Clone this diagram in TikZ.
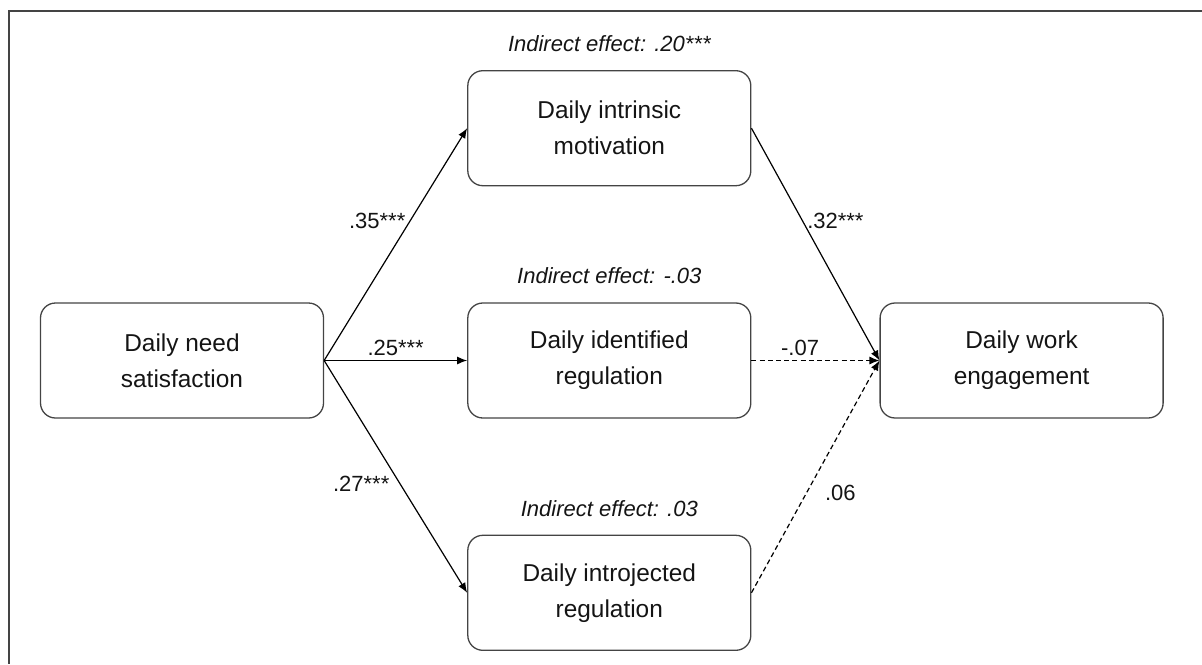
\documentclass[tikz,border=0pt]{standalone}
\usepackage{fontspec}
\setmainfont{Liberation Sans}
\usetikzlibrary{arrows.meta, positioning}
\definecolor{cEdge}{HTML}{444444}
\definecolor{cText}{HTML}{141414}

\begin{document}
\begin{tikzpicture}[
  x=0.5pt, y=-0.5pt,
  >={Latex[length=5pt, width=4pt]},
  var/.style    = {rectangle, rounded corners=7.5pt, draw=cEdge, line width=0.65pt,
                   align=center, minimum width=141.5pt, minimum height=57.5pt,
                   font=\fontsize{12.2}{18}\selectfont, text=cText},
  effect/.style = {font=\fontsize{11}{13}\selectfont\itshape, inner sep=0pt, text=cText},
  arr/.style    = {->, line width=0.6pt},
  ns/.style     = {arr, dash pattern=on 2.5pt off 1.6pt},
  lab/.style    = {font=\fontsize{11}{13}\selectfont, inner sep=2pt, text=cText}]

\useasboundingbox (0,0) rectangle (1202,664);

% frame (top and left only)
\draw[cEdge, line width=1pt] (1202,10.5) -- (9,10.5) -- (9,664);

% ---- predictor, mediators, outcome ----------------------------------------
\node[var] (need) at (182,360.5) {Daily need\\ satisfaction};
\node[var, right=71.5pt of need] (ident) {Daily identified\\ regulation};
\node[var, above=58pt of ident] (intr) {Daily intrinsic\\ motivation};
\node[var, below=58pt of ident] (intro) {Daily introjected\\ regulation};
\node[var, right=64pt of ident] (eng) {Daily work\\ engagement};

% indirect effects
\node[effect, above=9pt of intr] (effintr) {Indirect effect: .20***};
\node[effect, above=9pt of ident] (effident) {Indirect effect: -.03};
\node[effect, above=9pt of intro] (effintro) {Indirect effect: .03};

% ---- paths ----------------------------------------------------------------
\draw[arr] (need.east) -- (intr.west) node[lab, pos=0.6, left] {.35***};
\draw[arr] (need.east) -- (ident.west) node[lab, midway, above] {.25***};
\draw[arr] (need.east) -- (intro.west) node[lab, pos=0.53, left=3pt] {.27***};
\draw[arr] (intr.east) -- (eng.west) node[lab, pos=0.4, right] {.32***};
\draw[ns] (ident.east) -- (eng.west) node[lab, pos=0.38, above] {-.07};
\draw[ns] (intro.east) -- (eng.west) node[lab, pos=0.43, right=7pt] {.06};

\end{tikzpicture}
\end{document}
